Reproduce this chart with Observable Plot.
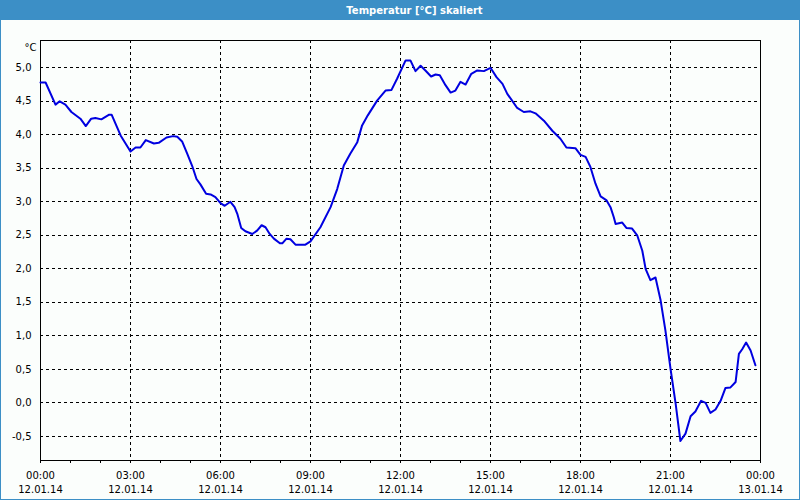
<!DOCTYPE html>
<html>
<head>
<meta charset="utf-8">
<script src="https://cdn.jsdelivr.net/npm/d3@7"></script>
<script src="https://cdn.jsdelivr.net/npm/@observablehq/plot@0.6"></script>
<style>
  body { margin: 0; background: #ffffff; }
  #wrap { position: relative; width: 800px; height: 500px; background: #fbfefc; overflow: hidden; font-family: "DejaVu Sans", sans-serif; }
  #title { position: absolute; left: 0; top: 0; width: 800px; height: 20px; background: #3c8fc6; }
  #title span { position: absolute; left: 414.5px; top: 10px; transform: translate(-50%, -50%); color: #ffffff; font-weight: bold; font-size: 10px; white-space: nowrap; font-family: "DejaVu Sans", sans-serif; }
  #chart { position: absolute; left: 0; top: 20px; }
  #border { position: absolute; left: 0; top: 0; width: 800px; height: 500px; box-sizing: border-box; border: 1px solid #3c8fc6; border-top: none; pointer-events: none; }
</style>
</head>
<body>
<div id="wrap">
  <div id="title"><span>Temperatur [°C] skaliert</span></div>
  <div id="chart"></div>
  <div id="border"></div>
</div>
<script>
// Hours since 12.01.14 00:00
const hours = [0, 0.17, 0.5, 0.64, 0.83, 1.03, 1.33, 1.51, 1.69, 1.83, 2.03, 2.29, 2.37, 2.67, 3.0, 3.17, 3.33, 3.51, 3.78, 3.94,
  4.2, 4.42, 4.56, 4.72, 4.89, 5.06, 5.2, 5.33, 5.52, 5.67, 5.83, 6.0, 6.14, 6.33, 6.47, 6.56, 6.69, 6.83, 7.06, 7.22,
  7.37, 7.5, 7.64, 7.78, 7.98, 8.06, 8.2, 8.33, 8.5, 8.83, 9.0, 9.33, 9.67, 9.89, 10.11, 10.33, 10.56, 10.72, 10.91, 11.22,
  11.5, 11.7, 11.89, 12.17, 12.33, 12.5, 12.67, 12.83, 13.02, 13.17, 13.31, 13.5, 13.67, 13.83, 14.0, 14.17, 14.36, 14.56, 14.78, 15.0,
  15.2, 15.4, 15.56, 15.72, 15.89, 16.11, 16.33, 16.5, 16.78, 17.06, 17.33, 17.53, 17.83, 18.0, 18.17, 18.33, 18.5, 18.67, 18.87, 19.0,
  19.11, 19.17, 19.39, 19.53, 19.72, 19.89, 20.06, 20.17, 20.33, 20.5, 20.67, 20.83, 21.0, 21.17, 21.33, 21.5, 21.67, 21.83, 22.02, 22.17,
  22.33, 22.5, 22.67, 22.83, 23.0, 23.17, 23.28, 23.39, 23.52, 23.67, 23.83];
const temps = [4.78, 4.78, 4.45, 4.50, 4.45, 4.34, 4.24, 4.13, 4.24, 4.25, 4.23, 4.30, 4.30, 3.99, 3.75, 3.81, 3.81, 3.92, 3.87, 3.88,
  3.96, 3.98, 3.97, 3.90, 3.72, 3.53, 3.34, 3.26, 3.12, 3.11, 3.07, 2.98, 2.94, 3.00, 2.92, 2.82, 2.61, 2.56, 2.52, 2.57,
  2.65, 2.62, 2.52, 2.45, 2.38, 2.38, 2.45, 2.44, 2.36, 2.36, 2.41, 2.62, 2.92, 3.19, 3.54, 3.72, 3.89, 4.14, 4.29, 4.51,
  4.66, 4.67, 4.84, 5.11, 5.11, 4.95, 5.03, 4.96, 4.87, 4.90, 4.89, 4.74, 4.63, 4.66, 4.79, 4.75, 4.91, 4.96, 4.95, 5.00,
  4.86, 4.76, 4.61, 4.51, 4.40, 4.34, 4.35, 4.32, 4.21, 4.06, 3.94, 3.81, 3.80, 3.70, 3.67, 3.52, 3.27, 3.08, 3.02, 2.92,
  2.77, 2.67, 2.69, 2.61, 2.60, 2.50, 2.27, 2.00, 1.83, 1.87, 1.53, 1.08, 0.51, -0.01, -0.57, -0.46, -0.20, -0.13, 0.03, 0.00,
  -0.15, -0.10, 0.03, 0.22, 0.23, 0.31, 0.73, 0.80, 0.90, 0.78, 0.56];

const yTicks = [-0.5, 0, 0.5, 1, 1.5, 2, 2.5, 3, 3.5, 4, 4.5, 5];
const xTicks = [0, 3, 6, 9, 12, 15, 18, 21, 24];
const xMinorTicks = [0, 1, 2, 3, 4, 5, 6, 7, 8, 9, 10, 11, 12, 13, 14, 15, 16, 17, 18, 19, 20, 21, 22, 23, 24];
const timeLabels = ["00:00", "03:00", "06:00", "09:00", "12:00", "15:00", "18:00", "21:00", "00:00"];
const dateLabels = ["12.01.14", "12.01.14", "12.01.14", "12.01.14", "12.01.14", "12.01.14", "12.01.14", "12.01.14", "13.01.14"];
const unitLabel = ["°C"];

const data = hours.map((h, i) => ({h, t: temps[i]}));

const chart = Plot.plot({
  width: 800,
  height: 480,
  marginTop: 20,
  marginBottom: 40,
  marginLeft: 40,
  marginRight: 40,
  style: {background: "transparent", fontFamily: "DejaVu Sans, sans-serif", fontSize: "10px", color: "#000"},
  x: {domain: [0, 24]},
  y: {domain: [-0.861, 5.407]},
  marks: [
    Plot.ruleY(yTicks, {stroke: "#000", strokeOpacity: 1, strokeDasharray: "3,3", shapeRendering: "crispEdges"}),
    Plot.ruleX(xTicks.slice(1, -1), {stroke: "#000", strokeOpacity: 1, strokeDasharray: "3,3", shapeRendering: "crispEdges"}),
    Plot.frame({stroke: "#000", shapeRendering: "crispEdges"}),
    Plot.axisY({ticks: yTicks, tickSize: 0, tickPadding: 9, tickFormat: d => d.toFixed(1).replace(".", ","), label: null, fill: "#000"}),
    Plot.axisX({ticks: xMinorTicks, tickSize: 3, tickFormat: () => "", label: null, stroke: "#000", strokeOpacity: 1, shapeRendering: "crispEdges"}),
    Plot.axisX({ticks: xTicks, tickSize: 0, tickPadding: 9, lineHeight: 1.4, label: null, fill: "#000",
      tickFormat: d => timeLabels[xTicks.indexOf(d)] + "\n" + dateLabels[xTicks.indexOf(d)]}),
    Plot.line(data, {x: "h", y: "t", stroke: "#0000e0", strokeWidth: 2}),
    Plot.text(unitLabel, {frameAnchor: "top-left", textAnchor: "end", lineAnchor: "top", dx: -4, dy: 3, fill: "#000"})
  ]
});
document.getElementById("chart").appendChild(chart);
</script>
</body>
</html>
